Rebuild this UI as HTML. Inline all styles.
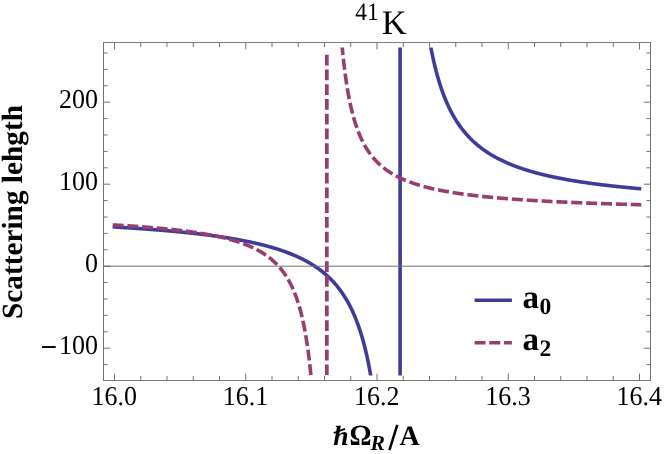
<!DOCTYPE html>
<html><head><meta charset="utf-8"><title>41K</title>
<style>
html,body{margin:0;padding:0;background:#fff;}
body{width:664px;height:454px;overflow:hidden;font-family:"Liberation Serif",serif;}
svg{display:block;will-change:transform;}
text{font-family:"Liberation Serif",serif;fill:#000;text-rendering:geometricPrecision;}
</style></head><body>
<svg width="664" height="454" viewBox="0 0 664 454">
<defs><clipPath id="cp"><rect x="100" y="47.5" width="560" height="328.0"/></clipPath></defs>
<rect x="0" y="0" width="664" height="454" fill="#fff"/>

<g clip-path="url(#cp)" fill="none" stroke-linejoin="round">
<path d="M114.50,227.00 L115.14,227.04 L115.79,227.07 L116.43,227.11 L117.08,227.15 L117.72,227.19 L118.37,227.23 L119.01,227.27 L119.66,227.30 L120.30,227.34 L120.95,227.38 L121.59,227.42 L122.24,227.46 L122.88,227.50 L123.52,227.54 L124.17,227.58 L124.81,227.62 L125.46,227.66 L126.10,227.70 L126.75,227.74 L127.39,227.78 L128.04,227.82 L128.68,227.87 L129.33,227.91 L129.97,227.95 L130.62,227.99 L131.26,228.03 L131.90,228.07 L132.55,228.12 L133.19,228.16 L133.84,228.20 L134.48,228.25 L135.13,228.29 L135.77,228.33 L136.42,228.38 L137.06,228.42 L137.71,228.47 L138.35,228.51 L139.00,228.55 L139.64,228.60 L140.28,228.64 L140.93,228.69 L141.57,228.74 L142.22,228.78 L142.86,228.83 L143.51,228.87 L144.15,228.92 L144.80,228.97 L145.44,229.01 L146.09,229.06 L146.73,229.11 L147.38,229.16 L148.02,229.20 L148.66,229.25 L149.31,229.30 L149.95,229.35 L150.60,229.40 L151.24,229.45 L151.89,229.50 L152.53,229.55 L153.18,229.60 L153.82,229.65 L154.47,229.70 L155.11,229.75 L155.76,229.80 L156.40,229.85 L157.04,229.90 L157.69,229.95 L158.33,230.01 L158.98,230.06 L159.62,230.11 L160.27,230.16 L160.91,230.22 L161.56,230.27 L162.20,230.32 L162.85,230.38 L163.49,230.43 L164.14,230.49 L164.78,230.54 L165.42,230.60 L166.07,230.65 L166.71,230.71 L167.36,230.77 L168.00,230.82 L168.65,230.88 L169.29,230.94 L169.94,230.99 L170.58,231.05 L171.23,231.11 L171.87,231.17 L172.52,231.23 L173.16,231.29 L173.80,231.35 L174.45,231.41 L175.09,231.47 L175.74,231.53 L176.38,231.59 L177.03,231.65 L177.67,231.71 L178.32,231.77 L178.96,231.83 L179.61,231.90 L180.25,231.96 L180.90,232.02 L181.54,232.09 L182.18,232.15 L182.83,232.22 L183.47,232.28 L184.12,232.35 L184.76,232.41 L185.41,232.48 L186.05,232.54 L186.70,232.61 L187.34,232.68 L187.99,232.75 L188.63,232.81 L189.28,232.88 L189.92,232.95 L190.56,233.02 L191.21,233.09 L191.85,233.16 L192.50,233.23 L193.14,233.30 L193.79,233.38 L194.43,233.45 L195.08,233.52 L195.72,233.59 L196.37,233.67 L197.01,233.74 L197.65,233.81 L198.30,233.89 L198.94,233.96 L199.59,234.04 L200.23,234.12 L200.88,234.19 L201.52,234.27 L202.17,234.35 L202.81,234.43 L203.46,234.51 L204.10,234.59 L204.75,234.67 L205.39,234.75 L206.03,234.83 L206.68,234.91 L207.32,234.99 L207.97,235.07 L208.61,235.16 L209.26,235.24 L209.90,235.32 L210.55,235.41 L211.19,235.49 L211.84,235.58 L212.48,235.67 L213.13,235.75 L213.77,235.84 L214.41,235.93 L215.06,236.02 L215.70,236.11 L216.35,236.20 L216.99,236.29 L217.64,236.38 L218.28,236.48 L218.93,236.57 L219.57,236.66 L220.22,236.76 L220.86,236.85 L221.51,236.95 L222.15,237.04 L222.79,237.14 L223.44,237.24 L224.08,237.34 L224.73,237.44 L225.37,237.54 L226.02,237.64 L226.66,237.74 L227.31,237.84 L227.95,237.94 L228.60,238.05 L229.24,238.15 L229.89,238.26 L230.53,238.36 L231.17,238.47 L231.82,238.58 L232.46,238.69 L233.11,238.80 L233.75,238.91 L234.40,239.02 L235.04,239.13 L235.69,239.24 L236.33,239.36 L236.98,239.47 L237.62,239.59 L238.27,239.70 L238.91,239.82 L239.55,239.94 L240.20,240.06 L240.84,240.18 L241.49,240.30 L242.13,240.42 L242.78,240.55 L243.42,240.67 L244.07,240.80 L244.71,240.92 L245.36,241.05 L246.00,241.18 L246.65,241.31 L247.29,241.44 L247.93,241.57 L248.58,241.70 L249.22,241.84 L249.87,241.97 L250.51,242.11 L251.16,242.25 L251.80,242.39 L252.45,242.53 L253.09,242.67 L253.74,242.81 L254.38,242.95 L255.03,243.10 L255.67,243.25 L256.31,243.39 L256.96,243.54 L257.60,243.69 L258.25,243.85 L258.89,244.00 L259.54,244.15 L260.18,244.31 L260.83,244.47 L261.47,244.63 L262.12,244.79 L262.76,244.95 L263.41,245.11 L264.05,245.28 L264.69,245.45 L265.34,245.61 L265.98,245.78 L266.63,245.96 L267.27,246.13 L267.92,246.30 L268.56,246.48 L269.21,246.66 L269.85,246.84 L270.50,247.02 L271.14,247.21 L271.79,247.39 L272.43,247.58 L273.07,247.77 L273.72,247.96 L274.36,248.15 L275.01,248.35 L275.65,248.55 L276.30,248.75 L276.94,248.95 L277.59,249.15 L278.23,249.36 L278.88,249.57 L279.52,249.78 L280.17,249.99 L280.81,250.20 L281.45,250.42 L282.10,250.64 L282.74,250.86 L283.39,251.09 L284.03,251.32 L284.68,251.55 L285.32,251.78 L285.97,252.01 L286.61,252.25 L287.26,252.49 L287.90,252.74 L288.55,252.98 L289.19,253.23 L289.83,253.48 L290.48,253.74 L291.12,254.00 L291.77,254.26 L292.41,254.52 L293.06,254.79 L293.70,255.06 L294.35,255.33 L294.99,255.61 L295.64,255.89 L296.28,256.18 L296.93,256.46 L297.57,256.76 L298.21,257.05 L298.86,257.35 L299.50,257.65 L300.15,257.96 L300.79,258.27 L301.44,258.59 L302.08,258.91 L302.73,259.23 L303.37,259.56 L304.02,259.89 L304.66,260.23 L305.31,260.57 L305.95,260.91 L306.59,261.27 L307.24,261.62 L307.88,261.98 L308.53,262.35 L309.17,262.72 L309.82,263.10 L310.46,263.48 L311.11,263.87 L311.75,264.26 L312.40,264.66 L313.04,265.06 L313.69,265.48 L314.33,265.89 L314.97,266.32 L315.62,266.75 L316.26,267.19 L316.91,267.63 L317.55,268.08 L318.20,268.54 L318.84,269.01 L319.49,269.48 L320.13,269.96 L320.78,270.45 L321.42,270.95 L322.07,271.45 L322.71,271.96 L323.35,272.49 L324.00,273.02 L324.64,273.56 L325.29,274.11 L325.93,274.67 L326.58,275.24 L327.22,275.82 L327.87,276.41 L328.51,277.01 L329.16,277.62 L329.80,278.25 L330.45,278.88 L331.09,279.53 L331.73,280.19 L332.38,280.86 L333.02,281.55 L333.67,282.25 L334.31,282.96 L334.96,283.69 L335.60,284.43 L336.25,285.19 L336.89,285.96 L337.54,286.75 L338.18,287.55 L338.83,288.38 L339.47,289.22 L340.11,290.08 L340.76,290.95 L341.40,291.85 L342.05,292.77 L342.69,293.71 L343.34,294.67 L343.98,295.65 L344.63,296.66 L345.27,297.69 L345.92,298.74 L346.56,299.82 L347.21,300.93 L347.85,302.07 L348.49,303.23 L349.14,304.43 L349.78,305.65 L350.43,306.91 L351.07,308.20 L351.72,309.53 L352.36,310.89 L353.01,312.29 L353.65,313.73 L354.30,315.21 L354.94,316.74 L355.58,318.31 L356.23,319.93 L356.87,321.59 L357.52,323.31 L358.16,325.09 L358.81,326.91 L359.45,328.80 L360.10,330.75 L360.74,332.77 L361.39,334.85 L362.03,337.01 L362.68,339.24 L363.32,341.56 L363.96,343.96 L364.61,346.44 L365.25,349.02 L365.90,351.71 L366.54,354.49 L367.19,357.39 L367.83,360.41 L368.48,363.56 L369.12,366.84 L369.77,370.26 L370.41,373.84 L371.06,377.58 L371.70,381.50" stroke="#3d3d99" stroke-width="3.6" stroke-linecap="square"/>
<path d="M400.1,42.5 L400.1,380.5" stroke="#3d3d99" stroke-width="3.6"/>
<path d="M429.79,41.50 L430.32,44.42 L430.84,47.24 L431.37,49.97 L431.89,52.61 L432.42,55.16 L432.94,57.63 L433.47,60.02 L434.00,62.34 L434.52,64.59 L435.05,66.77 L435.57,68.88 L436.10,70.93 L436.62,72.93 L437.15,74.87 L437.67,76.75 L438.20,78.58 L438.73,80.36 L439.25,82.10 L439.78,83.78 L440.30,85.43 L440.83,87.03 L441.35,88.59 L441.88,90.11 L442.40,91.59 L442.93,93.04 L443.46,94.45 L443.98,95.83 L444.51,97.18 L445.03,98.49 L445.56,99.77 L446.08,101.03 L446.61,102.25 L447.13,103.45 L447.66,104.62 L448.19,105.77 L448.71,106.89 L449.24,107.99 L449.76,109.06 L450.29,110.11 L450.81,111.14 L451.34,112.15 L451.87,113.14 L452.39,114.11 L452.92,115.06 L453.44,115.99 L453.97,116.90 L454.49,117.80 L455.02,118.67 L455.54,119.54 L456.07,120.38 L456.60,121.21 L457.12,122.02 L457.65,122.82 L458.17,123.61 L458.70,124.38 L459.22,125.13 L459.75,125.88 L460.27,126.61 L460.80,127.33 L461.33,128.03 L461.85,128.72 L462.38,129.41 L462.90,130.08 L463.43,130.74 L463.95,131.38 L464.48,132.02 L465.00,132.65 L465.53,133.27 L466.06,133.87 L466.58,134.47 L467.11,135.06 L467.63,135.64 L468.16,136.21 L468.68,136.77 L469.21,137.32 L469.74,137.87 L470.26,138.41 L470.79,138.93 L471.31,139.46 L471.84,139.97 L472.36,140.47 L472.89,140.97 L473.41,141.46 L473.94,141.95 L474.47,142.43 L474.99,142.90 L475.52,143.36 L476.04,143.82 L476.57,144.27 L477.09,144.72 L477.62,145.15 L478.14,145.59 L478.67,146.02 L479.20,146.44 L479.72,146.85 L480.25,147.26 L480.77,147.67 L481.30,148.07 L481.82,148.47 L482.35,148.86 L482.87,149.24 L483.40,149.62 L483.93,150.00 L484.45,150.37 L484.98,150.73 L485.50,151.09 L486.03,151.45 L486.55,151.80 L487.08,152.15 L487.61,152.50 L488.13,152.84 L488.66,153.17 L489.18,153.51 L489.71,153.84 L490.23,154.16 L490.76,154.48 L491.28,154.80 L491.81,155.11 L492.34,155.42 L492.86,155.73 L493.39,156.03 L493.91,156.33 L494.44,156.63 L494.96,156.92 L495.49,157.21 L496.01,157.50 L496.54,157.78 L497.07,158.06 L497.59,158.34 L498.12,158.61 L498.64,158.88 L499.17,159.15 L499.69,159.42 L500.22,159.68 L500.74,159.94 L501.27,160.20 L501.80,160.45 L502.32,160.70 L502.85,160.95 L503.37,161.20 L503.90,161.45 L504.42,161.69 L504.95,161.93 L505.48,162.16 L506.00,162.40 L506.53,162.63 L507.05,162.86 L507.58,163.09 L508.10,163.32 L508.63,163.54 L509.15,163.76 L509.68,163.98 L510.21,164.20 L510.73,164.41 L511.26,164.63 L511.78,164.84 L512.31,165.05 L512.83,165.25 L513.36,165.46 L513.88,165.66 L514.41,165.86 L514.94,166.06 L515.46,166.26 L515.99,166.46 L516.51,166.65 L517.04,166.84 L517.56,167.04 L518.09,167.22 L518.61,167.41 L519.14,167.60 L519.67,167.78 L520.19,167.97 L520.72,168.15 L521.24,168.33 L521.77,168.50 L522.29,168.68 L522.82,168.85 L523.35,169.03 L523.87,169.20 L524.40,169.37 L524.92,169.54 L525.45,169.71 L525.97,169.87 L526.50,170.04 L527.02,170.20 L527.55,170.36 L528.08,170.52 L528.60,170.68 L529.13,170.84 L529.65,171.00 L530.18,171.15 L530.70,171.31 L531.23,171.46 L531.75,171.61 L532.28,171.76 L532.81,171.91 L533.33,172.06 L533.86,172.21 L534.38,172.35 L534.91,172.50 L535.43,172.64 L535.96,172.79 L536.48,172.93 L537.01,173.07 L537.54,173.21 L538.06,173.35 L538.59,173.48 L539.11,173.62 L539.64,173.75 L540.16,173.89 L540.69,174.02 L541.22,174.15 L541.74,174.28 L542.27,174.41 L542.79,174.54 L543.32,174.67 L543.84,174.80 L544.37,174.93 L544.89,175.05 L545.42,175.18 L545.95,175.30 L546.47,175.42 L547.00,175.54 L547.52,175.67 L548.05,175.79 L548.57,175.90 L549.10,176.02 L549.62,176.14 L550.15,176.26 L550.68,176.37 L551.20,176.49 L551.73,176.60 L552.25,176.72 L552.78,176.83 L553.30,176.94 L553.83,177.05 L554.35,177.16 L554.88,177.27 L555.41,177.38 L555.93,177.49 L556.46,177.60 L556.98,177.71 L557.51,177.81 L558.03,177.92 L558.56,178.02 L559.09,178.13 L559.61,178.23 L560.14,178.33 L560.66,178.43 L561.19,178.54 L561.71,178.64 L562.24,178.74 L562.76,178.84 L563.29,178.93 L563.82,179.03 L564.34,179.13 L564.87,179.23 L565.39,179.32 L565.92,179.42 L566.44,179.51 L566.97,179.61 L567.49,179.70 L568.02,179.80 L568.55,179.89 L569.07,179.98 L569.60,180.07 L570.12,180.16 L570.65,180.25 L571.17,180.34 L571.70,180.43 L572.22,180.52 L572.75,180.61 L573.28,180.70 L573.80,180.78 L574.33,180.87 L574.85,180.96 L575.38,181.04 L575.90,181.13 L576.43,181.21 L576.96,181.30 L577.48,181.38 L578.01,181.46 L578.53,181.55 L579.06,181.63 L579.58,181.71 L580.11,181.79 L580.63,181.87 L581.16,181.95 L581.69,182.03 L582.21,182.11 L582.74,182.19 L583.26,182.27 L583.79,182.35 L584.31,182.42 L584.84,182.50 L585.36,182.58 L585.89,182.65 L586.42,182.73 L586.94,182.80 L587.47,182.88 L587.99,182.95 L588.52,183.03 L589.04,183.10 L589.57,183.17 L590.09,183.25 L590.62,183.32 L591.15,183.39 L591.67,183.46 L592.20,183.53 L592.72,183.60 L593.25,183.68 L593.77,183.75 L594.30,183.82 L594.83,183.88 L595.35,183.95 L595.88,184.02 L596.40,184.09 L596.93,184.16 L597.45,184.23 L597.98,184.29 L598.50,184.36 L599.03,184.43 L599.56,184.49 L600.08,184.56 L600.61,184.62 L601.13,184.69 L601.66,184.75 L602.18,184.82 L602.71,184.88 L603.23,184.94 L603.76,185.01 L604.29,185.07 L604.81,185.13 L605.34,185.20 L605.86,185.26 L606.39,185.32 L606.91,185.38 L607.44,185.44 L607.96,185.50 L608.49,185.56 L609.02,185.62 L609.54,185.68 L610.07,185.74 L610.59,185.80 L611.12,185.86 L611.64,185.92 L612.17,185.98 L612.70,186.04 L613.22,186.10 L613.75,186.15 L614.27,186.21 L614.80,186.27 L615.32,186.32 L615.85,186.38 L616.37,186.44 L616.90,186.49 L617.43,186.55 L617.95,186.60 L618.48,186.66 L619.00,186.71 L619.53,186.77 L620.05,186.82 L620.58,186.88 L621.10,186.93 L621.63,186.98 L622.16,187.04 L622.68,187.09 L623.21,187.14 L623.73,187.20 L624.26,187.25 L624.78,187.30 L625.31,187.35 L625.83,187.40 L626.36,187.45 L626.89,187.51 L627.41,187.56 L627.94,187.61 L628.46,187.66 L628.99,187.71 L629.51,187.76 L630.04,187.81 L630.57,187.86 L631.09,187.91 L631.62,187.96 L632.14,188.00 L632.67,188.05 L633.19,188.10 L633.72,188.15 L634.24,188.20 L634.77,188.24 L635.30,188.29 L635.82,188.34 L636.35,188.39 L636.87,188.43 L637.40,188.48 L637.92,188.53 L638.45,188.57 L638.97,188.62 L639.50,188.66" stroke="#3d3d99" stroke-width="3.6" stroke-linecap="square"/>
<path d="M114.50,225.00 L114.83,225.01 L115.16,225.03 L115.48,225.05 L115.81,225.07 L116.14,225.09 L116.47,225.11 L116.80,225.13 L117.12,225.15 L117.45,225.17 L117.78,225.19 L118.11,225.20 L118.43,225.22 L118.76,225.24 L119.09,225.26 L119.42,225.28 L119.75,225.30 L120.07,225.32 L120.40,225.34 L120.73,225.36 L121.06,225.38 L121.39,225.40 L121.71,225.42 L122.04,225.44 L122.37,225.46 L122.70,225.48 L123.03,225.50 L123.35,225.52 L123.68,225.54 L124.01,225.56 L124.34,225.58 L124.67,225.60 L124.99,225.62 L125.32,225.65 L125.65,225.67 L125.98,225.69 L126.30,225.71 L126.63,225.73 L126.96,225.75 L127.29,225.77 L127.62,225.79 L127.94,225.81 L128.27,225.83 L128.60,225.86 L128.93,225.88 L129.26,225.90 L129.58,225.92 L129.91,225.94 L130.24,225.96 L130.57,225.99 L130.90,226.01 L131.22,226.03 L131.55,226.05 L131.88,226.07 L132.21,226.10 L132.53,226.12 L132.86,226.14 L133.19,226.16 L133.52,226.19 L133.85,226.21 L134.17,226.23 L134.50,226.25 L134.83,226.28 L135.16,226.30 L135.49,226.32 L135.81,226.35 L136.14,226.37 L136.47,226.39 L136.80,226.42 L137.13,226.44 L137.45,226.46 L137.78,226.49 L138.11,226.51 L138.44,226.53 L138.76,226.56 L139.09,226.58 L139.42,226.60 L139.75,226.63 L140.08,226.65 L140.40,226.68 L140.73,226.70 L141.06,226.73 L141.39,226.75 L141.72,226.77 L142.04,226.80 L142.37,226.82 L142.70,226.85 L143.03,226.87 L143.36,226.90 L143.68,226.92 L144.01,226.95 L144.34,226.97 L144.67,227.00 L145.00,227.03 L145.32,227.05 L145.65,227.08 L145.98,227.10 L146.31,227.13 L146.63,227.15 L146.96,227.18 L147.29,227.21 L147.62,227.23 L147.95,227.26 L148.27,227.28 L148.60,227.31 L148.93,227.34 L149.26,227.36 L149.59,227.39 L149.91,227.42 L150.24,227.45 L150.57,227.47 L150.90,227.50 L151.23,227.53 L151.55,227.55 L151.88,227.58 L152.21,227.61 L152.54,227.64 L152.86,227.66 L153.19,227.69 L153.52,227.72 L153.85,227.75 L154.18,227.78 L154.50,227.81 L154.83,227.83 L155.16,227.86 L155.49,227.89 L155.82,227.92 L156.14,227.95 L156.47,227.98 L156.80,228.01 L157.13,228.04 L157.46,228.07 L157.78,228.09 L158.11,228.12 L158.44,228.15 L158.77,228.18 L159.10,228.21 L159.42,228.24 L159.75,228.27 L160.08,228.30 L160.41,228.33 L160.73,228.36 L161.06,228.40 L161.39,228.43 L161.72,228.46 L162.05,228.49 L162.37,228.52 L162.70,228.55 L163.03,228.58 L163.36,228.61 L163.69,228.64 L164.01,228.68 L164.34,228.71 L164.67,228.74 L165.00,228.77 L165.33,228.80 L165.65,228.84 L165.98,228.87 L166.31,228.90 L166.64,228.93 L166.96,228.97 L167.29,229.00 L167.62,229.03 L167.95,229.07 L168.28,229.10 L168.60,229.13 L168.93,229.17 L169.26,229.20 L169.59,229.24 L169.92,229.27 L170.24,229.30 L170.57,229.34 L170.90,229.37 L171.23,229.41 L171.56,229.44 L171.88,229.48 L172.21,229.51 L172.54,229.55 L172.87,229.58 L173.20,229.62 L173.52,229.66 L173.85,229.69 L174.18,229.73 L174.51,229.76 L174.83,229.80 L175.16,229.84 L175.49,229.87 L175.82,229.91 L176.15,229.95 L176.47,229.98 L176.80,230.02 L177.13,230.06 L177.46,230.10 L177.79,230.14 L178.11,230.17 L178.44,230.21 L178.77,230.25 L179.10,230.29 L179.43,230.33 L179.75,230.37 L180.08,230.41 L180.41,230.44 L180.74,230.48 L181.06,230.52 L181.39,230.56 L181.72,230.60 L182.05,230.64 L182.38,230.68 L182.70,230.72 L183.03,230.76 L183.36,230.81 L183.69,230.85 L184.02,230.89 L184.34,230.93 L184.67,230.97 L185.00,231.01 L185.33,231.05 L185.66,231.10 L185.98,231.14 L186.31,231.18 L186.64,231.22 L186.97,231.27 L187.29,231.31 L187.62,231.35 L187.95,231.40 L188.28,231.44 L188.61,231.49 L188.93,231.53 L189.26,231.57 L189.59,231.62 L189.92,231.66 L190.25,231.71 L190.57,231.75 L190.90,231.80 L191.23,231.85 L191.56,231.89 L191.89,231.94 L192.21,231.98 L192.54,232.03 L192.87,232.08 L193.20,232.13 L193.53,232.17 L193.85,232.22 L194.18,232.27 L194.51,232.32 L194.84,232.36 L195.16,232.41 L195.49,232.46 L195.82,232.51 L196.15,232.56 L196.48,232.61 L196.80,232.66 L197.13,232.71 L197.46,232.76 L197.79,232.81 L198.12,232.86 L198.44,232.91 L198.77,232.96 L199.10,233.01 L199.43,233.07 L199.76,233.12 L200.08,233.17 L200.41,233.22 L200.74,233.28 L201.07,233.33 L201.39,233.38 L201.72,233.44 L202.05,233.49 L202.38,233.54 L202.71,233.60 L203.03,233.65 L203.36,233.71 L203.69,233.77 L204.02,233.82 L204.35,233.88 L204.67,233.93 L205.00,233.99 L205.33,234.05 L205.66,234.10 L205.99,234.16 L206.31,234.22 L206.64,234.28 L206.97,234.34 L207.30,234.40 L207.63,234.45 L207.95,234.51 L208.28,234.57 L208.61,234.63 L208.94,234.69 L209.26,234.76 L209.59,234.82 L209.92,234.88 L210.25,234.94 L210.58,235.00 L210.90,235.06 L211.23,235.13 L211.56,235.19 L211.89,235.25 L212.22,235.32 L212.54,235.38 L212.87,235.45 L213.20,235.51 L213.53,235.58 L213.86,235.64 L214.18,235.71 L214.51,235.78 L214.84,235.84 L215.17,235.91 L215.49,235.98 L215.82,236.05 L216.15,236.12 L216.48,236.19 L216.81,236.26 L217.13,236.33 L217.46,236.40 L217.79,236.47 L218.12,236.54 L218.45,236.61 L218.77,236.68 L219.10,236.75 L219.43,236.83 L219.76,236.90 L220.09,236.97 L220.41,237.05 L220.74,237.12 L221.07,237.20 L221.40,237.27 L221.73,237.35 L222.05,237.43 L222.38,237.50 L222.71,237.58 L223.04,237.66 L223.36,237.74 L223.69,237.82 L224.02,237.90 L224.35,237.98 L224.68,238.06 L225.00,238.14 L225.33,238.22 L225.66,238.30 L225.99,238.38 L226.32,238.47 L226.64,238.55 L226.97,238.64 L227.30,238.72 L227.63,238.81 L227.96,238.89 L228.28,238.98 L228.61,239.07 L228.94,239.15 L229.27,239.24 L229.59,239.33 L229.92,239.42 L230.25,239.51 L230.58,239.60 L230.91,239.69 L231.23,239.79 L231.56,239.88 L231.89,239.97 L232.22,240.06 L232.55,240.16 L232.87,240.25 L233.20,240.35 L233.53,240.45 L233.86,240.54 L234.19,240.64 L234.51,240.74 L234.84,240.84 L235.17,240.94 L235.50,241.04 L235.82,241.14 L236.15,241.25 L236.48,241.35 L236.81,241.45 L237.14,241.56 L237.46,241.66 L237.79,241.77 L238.12,241.88 L238.45,241.98 L238.78,242.09 L239.10,242.20 L239.43,242.31 L239.76,242.42 L240.09,242.53 L240.42,242.65 L240.74,242.76 L241.07,242.87 L241.40,242.99 L241.73,243.10 L242.06,243.22 L242.38,243.34 L242.71,243.46 L243.04,243.58 L243.37,243.70 L243.69,243.82 L244.02,243.94 L244.35,244.07 L244.68,244.19 L245.01,244.32 L245.33,244.44 L245.66,244.57 L245.99,244.70 L246.32,244.83 L246.65,244.96 L246.97,245.09 L247.30,245.23 L247.63,245.36 L247.96,245.49 L248.29,245.63 L248.61,245.77 L248.94,245.91 L249.27,246.05 L249.60,246.19 L249.92,246.33 L250.25,246.47 L250.58,246.62 L250.91,246.76 L251.24,246.91 L251.56,247.06 L251.89,247.21 L252.22,247.36 L252.55,247.51 L252.88,247.67 L253.20,247.82 L253.53,247.98 L253.86,248.14 L254.19,248.30 L254.52,248.46 L254.84,248.62 L255.17,248.78 L255.50,248.95 L255.83,249.11 L256.16,249.28 L256.48,249.45 L256.81,249.62 L257.14,249.80 L257.47,249.97 L257.79,250.15 L258.12,250.33 L258.45,250.51 L258.78,250.69 L259.11,250.87 L259.43,251.06 L259.76,251.24 L260.09,251.43 L260.42,251.62 L260.75,251.81 L261.07,252.01 L261.40,252.21 L261.73,252.40 L262.06,252.60 L262.39,252.81 L262.71,253.01 L263.04,253.22 L263.37,253.43 L263.70,253.64 L264.02,253.85 L264.35,254.07 L264.68,254.28 L265.01,254.50 L265.34,254.73 L265.66,254.95 L265.99,255.18 L266.32,255.41 L266.65,255.64 L266.98,255.87 L267.30,256.11 L267.63,256.35 L267.96,256.59 L268.29,256.84 L268.62,257.09 L268.94,257.34 L269.27,257.59 L269.60,257.85 L269.93,258.11 L270.25,258.37 L270.58,258.64 L270.91,258.91 L271.24,259.18 L271.57,259.45 L271.89,259.73 L272.22,260.01 L272.55,260.30 L272.88,260.59 L273.21,260.88 L273.53,261.18 L273.86,261.47 L274.19,261.78 L274.52,262.09 L274.85,262.40 L275.17,262.71 L275.50,263.03 L275.83,263.35 L276.16,263.68 L276.49,264.01 L276.81,264.35 L277.14,264.69 L277.47,265.03 L277.80,265.38 L278.12,265.74 L278.45,266.10 L278.78,266.46 L279.11,266.83 L279.44,267.20 L279.76,267.58 L280.09,267.97 L280.42,268.36 L280.75,268.75 L281.08,269.16 L281.40,269.56 L281.73,269.98 L282.06,270.39 L282.39,270.82 L282.72,271.25 L283.04,271.69 L283.37,272.14 L283.70,272.59 L284.03,273.05 L284.35,273.51 L284.68,273.98 L285.01,274.47 L285.34,274.95 L285.67,275.45 L285.99,275.95 L286.32,276.46 L286.65,276.99 L286.98,277.51 L287.31,278.05 L287.63,278.60 L287.96,279.16 L288.29,279.72 L288.62,280.30 L288.95,280.88 L289.27,281.48 L289.60,282.08 L289.93,282.70 L290.26,283.33 L290.59,283.97 L290.91,284.62 L291.24,285.28 L291.57,285.96 L291.90,286.65 L292.22,287.35 L292.55,288.06 L292.88,288.79 L293.21,289.53 L293.54,290.29 L293.86,291.06 L294.19,291.85 L294.52,292.66 L294.85,293.48 L295.18,294.32 L295.50,295.17 L295.83,296.05 L296.16,296.94 L296.49,297.85 L296.82,298.78 L297.14,299.74 L297.47,300.71 L297.80,301.71 L298.13,302.73 L298.45,303.77 L298.78,304.84 L299.11,305.93 L299.44,307.05 L299.77,308.19 L300.09,309.37 L300.42,310.57 L300.75,311.81 L301.08,313.07 L301.41,314.37 L301.73,315.70 L302.06,317.07 L302.39,318.48 L302.72,319.92 L303.05,321.40 L303.37,322.93 L303.70,324.50 L304.03,326.11 L304.36,327.77 L304.69,329.48 L305.01,331.25 L305.34,333.06 L305.67,334.94 L306.00,336.87 L306.32,338.87 L306.65,340.93 L306.98,343.05 L307.31,345.26 L307.64,347.53 L307.96,349.89 L308.29,352.33 L308.62,354.86 L308.95,357.48 L309.28,360.20 L309.60,363.03 L309.93,365.96 L310.26,369.01 L310.59,372.19 L310.92,375.50" stroke="#993d71" stroke-width="3.6" stroke-linecap="square" stroke-dasharray="7.345 7.345"/>
<path d="M326.85,54.7 L326.85,380.5" stroke="#993d71" stroke-width="3.7" stroke-dasharray="10.7 4.05"/>
<path d="M342.06,45.75 L342.55,50.99 L343.05,55.90 L343.54,60.53 L344.04,64.90 L344.54,69.02 L345.03,72.91 L345.53,76.60 L346.03,80.11 L346.52,83.43 L347.02,86.60 L347.52,89.61 L348.01,92.48 L348.51,95.22 L349.01,97.84 L349.50,100.35 L350.00,102.75 L350.50,105.04 L350.99,107.25 L351.49,109.37 L351.99,111.40 L352.48,113.35 L352.98,115.23 L353.48,117.05 L353.97,118.79 L354.47,120.47 L354.97,122.10 L355.46,123.67 L355.96,125.18 L356.46,126.64 L356.95,128.06 L357.45,129.43 L357.95,130.76 L358.44,132.04 L358.94,133.29 L359.43,134.49 L359.93,135.67 L360.43,136.80 L360.92,137.91 L361.42,138.98 L361.92,140.02 L362.41,141.04 L362.91,142.02 L363.41,142.98 L363.90,143.91 L364.40,144.82 L364.90,145.71 L365.39,146.57 L365.89,147.41 L366.39,148.23 L366.88,149.03 L367.38,149.81 L367.88,150.57 L368.37,151.31 L368.87,152.04 L369.37,152.74 L369.86,153.44 L370.36,154.11 L370.86,154.77 L371.35,155.42 L371.85,156.05 L372.35,156.67 L372.84,157.28 L373.34,157.87 L373.84,158.45 L374.33,159.02 L374.83,159.57 L375.33,160.12 L375.82,160.65 L376.32,161.17 L376.81,161.69 L377.31,162.19 L377.81,162.68 L378.30,163.16 L378.80,163.64 L379.30,164.10 L379.79,164.56 L380.29,165.01 L380.79,165.45 L381.28,165.88 L381.78,166.30 L382.28,166.72 L382.77,167.13 L383.27,167.53 L383.77,167.92 L384.26,168.31 L384.76,168.69 L385.26,169.07 L385.75,169.44 L386.25,169.80 L386.75,170.16 L387.24,170.51 L387.74,170.85 L388.24,171.19 L388.73,171.52 L389.23,171.85 L389.73,172.18 L390.22,172.50 L390.72,172.81 L391.22,173.12 L391.71,173.42 L392.21,173.72 L392.71,174.02 L393.20,174.31 L393.70,174.59 L394.19,174.87 L394.69,175.15 L395.19,175.42 L395.68,175.69 L396.18,175.96 L396.68,176.22 L397.17,176.48 L397.67,176.74 L398.17,176.99 L398.66,177.23 L399.16,177.48 L399.66,177.72 L400.15,177.96 L400.65,178.19 L401.15,178.42 L401.64,178.65 L402.14,178.88 L402.64,179.10 L403.13,179.32 L403.63,179.54 L404.13,179.75 L404.62,179.96 L405.12,180.17 L405.62,180.38 L406.11,180.58 L406.61,180.78 L407.11,180.98 L407.60,181.18 L408.10,181.37 L408.60,181.56 L409.09,181.75 L409.59,181.94 L410.09,182.12 L410.58,182.30 L411.08,182.48 L411.57,182.66 L412.07,182.84 L412.57,183.01 L413.06,183.18 L413.56,183.35 L414.06,183.52 L414.55,183.69 L415.05,183.85 L415.55,184.01 L416.04,184.17 L416.54,184.33 L417.04,184.49 L417.53,184.64 L418.03,184.80 L418.53,184.95 L419.02,185.10 L419.52,185.25 L420.02,185.40 L420.51,185.54 L421.01,185.69 L421.51,185.83 L422.00,185.97 L422.50,186.11 L423.00,186.25 L423.49,186.38 L423.99,186.52 L424.49,186.65 L424.98,186.79 L425.48,186.92 L425.98,187.05 L426.47,187.18 L426.97,187.30 L427.46,187.43 L427.96,187.55 L428.46,187.68 L428.95,187.80 L429.45,187.92 L429.95,188.04 L430.44,188.16 L430.94,188.28 L431.44,188.39 L431.93,188.51 L432.43,188.63 L432.93,188.74 L433.42,188.85 L433.92,188.96 L434.42,189.07 L434.91,189.18 L435.41,189.29 L435.91,189.40 L436.40,189.50 L436.90,189.61 L437.40,189.71 L437.89,189.82 L438.39,189.92 L438.89,190.02 L439.38,190.12 L439.88,190.22 L440.38,190.32 L440.87,190.42 L441.37,190.52 L441.87,190.61 L442.36,190.71 L442.86,190.80 L443.36,190.90 L443.85,190.99 L444.35,191.08 L444.84,191.18 L445.34,191.27 L445.84,191.36 L446.33,191.45 L446.83,191.54 L447.33,191.62 L447.82,191.71 L448.32,191.80 L448.82,191.88 L449.31,191.97 L449.81,192.05 L450.31,192.14 L450.80,192.22 L451.30,192.30 L451.80,192.38 L452.29,192.46 L452.79,192.54 L453.29,192.62 L453.78,192.70 L454.28,192.78 L454.78,192.86 L455.27,192.94 L455.77,193.01 L456.27,193.09 L456.76,193.17 L457.26,193.24 L457.76,193.32 L458.25,193.39 L458.75,193.46 L459.25,193.54 L459.74,193.61 L460.24,193.68 L460.74,193.75 L461.23,193.82 L461.73,193.89 L462.22,193.96 L462.72,194.03 L463.22,194.10 L463.71,194.17 L464.21,194.24 L464.71,194.30 L465.20,194.37 L465.70,194.44 L466.20,194.50 L466.69,194.57 L467.19,194.63 L467.69,194.70 L468.18,194.76 L468.68,194.82 L469.18,194.89 L469.67,194.95 L470.17,195.01 L470.67,195.07 L471.16,195.13 L471.66,195.19 L472.16,195.25 L472.65,195.31 L473.15,195.37 L473.65,195.43 L474.14,195.49 L474.64,195.55 L475.14,195.61 L475.63,195.67 L476.13,195.72 L476.63,195.78 L477.12,195.84 L477.62,195.89 L478.12,195.95 L478.61,196.00 L479.11,196.06 L479.60,196.11 L480.10,196.17 L480.60,196.22 L481.09,196.28 L481.59,196.33 L482.09,196.38 L482.58,196.44 L483.08,196.49 L483.58,196.54 L484.07,196.59 L484.57,196.64 L485.07,196.69 L485.56,196.74 L486.06,196.79 L486.56,196.84 L487.05,196.89 L487.55,196.94 L488.05,196.99 L488.54,197.04 L489.04,197.09 L489.54,197.14 L490.03,197.19 L490.53,197.23 L491.03,197.28 L491.52,197.33 L492.02,197.37 L492.52,197.42 L493.01,197.47 L493.51,197.51 L494.01,197.56 L494.50,197.60 L495.00,197.65 L495.49,197.69 L495.99,197.74 L496.49,197.78 L496.98,197.83 L497.48,197.87 L497.98,197.91 L498.47,197.96 L498.97,198.00 L499.47,198.04 L499.96,198.09 L500.46,198.13 L500.96,198.17 L501.45,198.21 L501.95,198.25 L502.45,198.30 L502.94,198.34 L503.44,198.38 L503.94,198.42 L504.43,198.46 L504.93,198.50 L505.43,198.54 L505.92,198.58 L506.42,198.62 L506.92,198.66 L507.41,198.70 L507.91,198.74 L508.41,198.77 L508.90,198.81 L509.40,198.85 L509.90,198.89 L510.39,198.93 L510.89,198.97 L511.39,199.00 L511.88,199.04 L512.38,199.08 L512.87,199.11 L513.37,199.15 L513.87,199.19 L514.36,199.22 L514.86,199.26 L515.36,199.30 L515.85,199.33 L516.35,199.37 L516.85,199.40 L517.34,199.44 L517.84,199.47 L518.34,199.51 L518.83,199.54 L519.33,199.58 L519.83,199.61 L520.32,199.64 L520.82,199.68 L521.32,199.71 L521.81,199.75 L522.31,199.78 L522.81,199.81 L523.30,199.85 L523.80,199.88 L524.30,199.91 L524.79,199.94 L525.29,199.98 L525.79,200.01 L526.28,200.04 L526.78,200.07 L527.28,200.10 L527.77,200.14 L528.27,200.17 L528.77,200.20 L529.26,200.23 L529.76,200.26 L530.25,200.29 L530.75,200.32 L531.25,200.35 L531.74,200.38 L532.24,200.41 L532.74,200.44 L533.23,200.47 L533.73,200.50 L534.23,200.53 L534.72,200.56 L535.22,200.59 L535.72,200.62 L536.21,200.65 L536.71,200.68 L537.21,200.71 L537.70,200.74 L538.20,200.76 L538.70,200.79 L539.19,200.82 L539.69,200.85 L540.19,200.88 L540.68,200.91 L541.18,200.93 L541.68,200.96 L542.17,200.99 L542.67,201.02 L543.17,201.04 L543.66,201.07 L544.16,201.10 L544.66,201.12 L545.15,201.15 L545.65,201.18 L546.14,201.20 L546.64,201.23 L547.14,201.26 L547.63,201.28 L548.13,201.31 L548.63,201.33 L549.12,201.36 L549.62,201.39 L550.12,201.41 L550.61,201.44 L551.11,201.46 L551.61,201.49 L552.10,201.51 L552.60,201.54 L553.10,201.56 L553.59,201.59 L554.09,201.61 L554.59,201.64 L555.08,201.66 L555.58,201.69 L556.08,201.71 L556.57,201.73 L557.07,201.76 L557.57,201.78 L558.06,201.81 L558.56,201.83 L559.06,201.85 L559.55,201.88 L560.05,201.90 L560.55,201.92 L561.04,201.95 L561.54,201.97 L562.04,201.99 L562.53,202.02 L563.03,202.04 L563.52,202.06 L564.02,202.09 L564.52,202.11 L565.01,202.13 L565.51,202.15 L566.01,202.17 L566.50,202.20 L567.00,202.22 L567.50,202.24 L567.99,202.26 L568.49,202.29 L568.99,202.31 L569.48,202.33 L569.98,202.35 L570.48,202.37 L570.97,202.39 L571.47,202.41 L571.97,202.44 L572.46,202.46 L572.96,202.48 L573.46,202.50 L573.95,202.52 L574.45,202.54 L574.95,202.56 L575.44,202.58 L575.94,202.60 L576.44,202.62 L576.93,202.64 L577.43,202.66 L577.93,202.68 L578.42,202.70 L578.92,202.72 L579.42,202.74 L579.91,202.76 L580.41,202.78 L580.90,202.80 L581.40,202.82 L581.90,202.84 L582.39,202.86 L582.89,202.88 L583.39,202.90 L583.88,202.92 L584.38,202.94 L584.88,202.96 L585.37,202.98 L585.87,203.00 L586.37,203.02 L586.86,203.03 L587.36,203.05 L587.86,203.07 L588.35,203.09 L588.85,203.11 L589.35,203.13 L589.84,203.15 L590.34,203.16 L590.84,203.18 L591.33,203.20 L591.83,203.22 L592.33,203.24 L592.82,203.26 L593.32,203.27 L593.82,203.29 L594.31,203.31 L594.81,203.33 L595.31,203.34 L595.80,203.36 L596.30,203.38 L596.80,203.40 L597.29,203.41 L597.79,203.43 L598.28,203.45 L598.78,203.47 L599.28,203.48 L599.77,203.50 L600.27,203.52 L600.77,203.54 L601.26,203.55 L601.76,203.57 L602.26,203.59 L602.75,203.60 L603.25,203.62 L603.75,203.64 L604.24,203.65 L604.74,203.67 L605.24,203.69 L605.73,203.70 L606.23,203.72 L606.73,203.73 L607.22,203.75 L607.72,203.77 L608.22,203.78 L608.71,203.80 L609.21,203.81 L609.71,203.83 L610.20,203.85 L610.70,203.86 L611.20,203.88 L611.69,203.89 L612.19,203.91 L612.69,203.93 L613.18,203.94 L613.68,203.96 L614.17,203.97 L614.67,203.99 L615.17,204.00 L615.66,204.02 L616.16,204.03 L616.66,204.05 L617.15,204.06 L617.65,204.08 L618.15,204.09 L618.64,204.11 L619.14,204.12 L619.64,204.14 L620.13,204.15 L620.63,204.17 L621.13,204.18 L621.62,204.20 L622.12,204.21 L622.62,204.23 L623.11,204.24 L623.61,204.26 L624.11,204.27 L624.60,204.28 L625.10,204.30 L625.60,204.31 L626.09,204.33 L626.59,204.34 L627.09,204.36 L627.58,204.37 L628.08,204.38 L628.58,204.40 L629.07,204.41 L629.57,204.43 L630.07,204.44 L630.56,204.45 L631.06,204.47 L631.55,204.48 L632.05,204.49 L632.55,204.51 L633.04,204.52 L633.54,204.54 L634.04,204.55 L634.53,204.56 L635.03,204.58 L635.53,204.59 L636.02,204.60 L636.52,204.62 L637.02,204.63 L637.51,204.64 L638.01,204.66 L638.51,204.67 L639.00,204.68 L639.50,204.69" stroke="#993d71" stroke-width="3.6" stroke-linecap="square" stroke-dasharray="7.44 7.44"/>
</g>
<line x1="104" y1="266.2" x2="650" y2="266.2" stroke="#707070" stroke-width="1"/>
<g stroke="#7d7d7d" stroke-width="1" fill="none" shape-rendering="crispEdges">
<line x1="103" y1="42.5" x2="651" y2="42.5"/>
<line x1="103" y1="380.5" x2="651" y2="380.5"/>
<line x1="103.5" y1="42" x2="103.5" y2="381" stroke="#717171"/>
<line x1="650.5" y1="42" x2="650.5" y2="381" stroke="#717171"/>
</g>
<g stroke="#585858" stroke-width="0.85" fill="none">
<line x1="114.50" y1="43" x2="114.50" y2="49.4"/>
<line x1="114.50" y1="380" x2="114.50" y2="373.6"/>
<line x1="140.75" y1="43" x2="140.75" y2="47.1"/>
<line x1="140.75" y1="380" x2="140.75" y2="375.9"/>
<line x1="167.00" y1="43" x2="167.00" y2="47.1"/>
<line x1="167.00" y1="380" x2="167.00" y2="375.9"/>
<line x1="193.25" y1="43" x2="193.25" y2="47.1"/>
<line x1="193.25" y1="380" x2="193.25" y2="375.9"/>
<line x1="219.50" y1="43" x2="219.50" y2="47.1"/>
<line x1="219.50" y1="380" x2="219.50" y2="375.9"/>
<line x1="245.75" y1="43" x2="245.75" y2="49.4"/>
<line x1="245.75" y1="380" x2="245.75" y2="373.6"/>
<line x1="272.00" y1="43" x2="272.00" y2="47.1"/>
<line x1="272.00" y1="380" x2="272.00" y2="375.9"/>
<line x1="298.25" y1="43" x2="298.25" y2="47.1"/>
<line x1="298.25" y1="380" x2="298.25" y2="375.9"/>
<line x1="324.50" y1="43" x2="324.50" y2="47.1"/>
<line x1="324.50" y1="380" x2="324.50" y2="375.9"/>
<line x1="350.75" y1="43" x2="350.75" y2="47.1"/>
<line x1="350.75" y1="380" x2="350.75" y2="375.9"/>
<line x1="377.00" y1="43" x2="377.00" y2="49.4"/>
<line x1="377.00" y1="380" x2="377.00" y2="373.6"/>
<line x1="403.25" y1="43" x2="403.25" y2="47.1"/>
<line x1="403.25" y1="380" x2="403.25" y2="375.9"/>
<line x1="429.50" y1="43" x2="429.50" y2="47.1"/>
<line x1="429.50" y1="380" x2="429.50" y2="375.9"/>
<line x1="455.75" y1="43" x2="455.75" y2="47.1"/>
<line x1="455.75" y1="380" x2="455.75" y2="375.9"/>
<line x1="482.00" y1="43" x2="482.00" y2="47.1"/>
<line x1="482.00" y1="380" x2="482.00" y2="375.9"/>
<line x1="508.25" y1="43" x2="508.25" y2="49.4"/>
<line x1="508.25" y1="380" x2="508.25" y2="373.6"/>
<line x1="534.50" y1="43" x2="534.50" y2="47.1"/>
<line x1="534.50" y1="380" x2="534.50" y2="375.9"/>
<line x1="560.75" y1="43" x2="560.75" y2="47.1"/>
<line x1="560.75" y1="380" x2="560.75" y2="375.9"/>
<line x1="587.00" y1="43" x2="587.00" y2="47.1"/>
<line x1="587.00" y1="380" x2="587.00" y2="375.9"/>
<line x1="613.25" y1="43" x2="613.25" y2="47.1"/>
<line x1="613.25" y1="380" x2="613.25" y2="375.9"/>
<line x1="639.50" y1="43" x2="639.50" y2="49.4"/>
<line x1="639.50" y1="380" x2="639.50" y2="373.6"/>
<line x1="104" y1="364.60" x2="107.6" y2="364.60"/>
<line x1="650" y1="364.60" x2="646.4" y2="364.60"/>
<line x1="104" y1="348.20" x2="110.2" y2="348.20"/>
<line x1="650" y1="348.20" x2="643.8" y2="348.20"/>
<line x1="104" y1="331.80" x2="107.6" y2="331.80"/>
<line x1="650" y1="331.80" x2="646.4" y2="331.80"/>
<line x1="104" y1="315.40" x2="107.6" y2="315.40"/>
<line x1="650" y1="315.40" x2="646.4" y2="315.40"/>
<line x1="104" y1="299.00" x2="107.6" y2="299.00"/>
<line x1="650" y1="299.00" x2="646.4" y2="299.00"/>
<line x1="104" y1="282.60" x2="107.6" y2="282.60"/>
<line x1="650" y1="282.60" x2="646.4" y2="282.60"/>
<line x1="104" y1="266.20" x2="110.2" y2="266.20"/>
<line x1="650" y1="266.20" x2="643.8" y2="266.20"/>
<line x1="104" y1="249.80" x2="107.6" y2="249.80"/>
<line x1="650" y1="249.80" x2="646.4" y2="249.80"/>
<line x1="104" y1="233.40" x2="107.6" y2="233.40"/>
<line x1="650" y1="233.40" x2="646.4" y2="233.40"/>
<line x1="104" y1="217.00" x2="107.6" y2="217.00"/>
<line x1="650" y1="217.00" x2="646.4" y2="217.00"/>
<line x1="104" y1="200.60" x2="107.6" y2="200.60"/>
<line x1="650" y1="200.60" x2="646.4" y2="200.60"/>
<line x1="104" y1="184.20" x2="110.2" y2="184.20"/>
<line x1="650" y1="184.20" x2="643.8" y2="184.20"/>
<line x1="104" y1="167.80" x2="107.6" y2="167.80"/>
<line x1="650" y1="167.80" x2="646.4" y2="167.80"/>
<line x1="104" y1="151.40" x2="107.6" y2="151.40"/>
<line x1="650" y1="151.40" x2="646.4" y2="151.40"/>
<line x1="104" y1="135.00" x2="107.6" y2="135.00"/>
<line x1="650" y1="135.00" x2="646.4" y2="135.00"/>
<line x1="104" y1="118.60" x2="107.6" y2="118.60"/>
<line x1="650" y1="118.60" x2="646.4" y2="118.60"/>
<line x1="104" y1="102.20" x2="110.2" y2="102.20"/>
<line x1="650" y1="102.20" x2="643.8" y2="102.20"/>
<line x1="104" y1="85.80" x2="107.6" y2="85.80"/>
<line x1="650" y1="85.80" x2="646.4" y2="85.80"/>
<line x1="104" y1="69.40" x2="107.6" y2="69.40"/>
<line x1="650" y1="69.40" x2="646.4" y2="69.40"/>
<line x1="104" y1="53.00" x2="107.6" y2="53.00"/>
<line x1="650" y1="53.00" x2="646.4" y2="53.00"/>
</g>
<g font-size="26">
<text transform="translate(114.20,404.8) scale(1,1.05)" text-anchor="middle">16.0</text>
<text transform="translate(245.45,404.8) scale(1,1.05)" text-anchor="middle">16.1</text>
<text transform="translate(376.70,404.8) scale(1,1.05)" text-anchor="middle">16.2</text>
<text transform="translate(507.95,404.8) scale(1,1.05)" text-anchor="middle">16.3</text>
<text transform="translate(639.20,404.8) scale(1,1.05)" text-anchor="middle">16.4</text>
<text transform="translate(98,107.50) scale(1,1.05)" text-anchor="end">200</text>
<text transform="translate(98,189.50) scale(1,1.05)" text-anchor="end">100</text>
<text transform="translate(98,271.50) scale(1,1.05)" text-anchor="end">0</text>
<text transform="translate(98,353.50) scale(1,1.05)" text-anchor="end">100</text>
<line x1="42" y1="347" x2="55.7" y2="347" stroke="#000" stroke-width="1.9"/>
</g>
<text transform="translate(355.3,19.9) scale(0.96,1.03)" font-size="24.4">41</text>
<text x="381.7" y="33.7" font-size="34.5">K</text>
<text transform="translate(22.2,319) rotate(-90)" font-size="29.3" font-weight="bold">Scattering lehgth</text>
<g font-weight="bold">
<text x="333.2" y="445.3" font-size="27.7" font-style="italic">h</text>
<line x1="333.7" y1="433.0" x2="345.0" y2="428.9" stroke="#000" stroke-width="1.7"/>
<text transform="translate(349.5,445.3) scale(0.93,1)" font-size="29.5">Ω</text>
<text x="370.4" y="449.8" font-size="21.5" font-style="italic">R</text>
<line x1="389.4" y1="450.2" x2="397.3" y2="424.9" stroke="#000" stroke-width="2.5"/>
<text x="399.6" y="445.3" font-size="28">A</text>
</g>
<line x1="476.4" y1="300.3" x2="510.1" y2="300.3" stroke="#3d3d99" stroke-width="3.6" stroke-linecap="square"/>
<line x1="476.4" y1="342.7" x2="510.1" y2="342.7" stroke="#993d71" stroke-width="3.6" stroke-linecap="square" stroke-dasharray="7.345 7.345"/>
<text x="522.5" y="308" font-size="33" font-weight="bold">a<tspan font-size="23.5" dy="5.5" dx="0.5">0</tspan></text>
<text x="522.5" y="350.4" font-size="33" font-weight="bold">a<tspan font-size="23.5" dy="5.5" dx="0.5">2</tspan></text>
</svg></body></html>
